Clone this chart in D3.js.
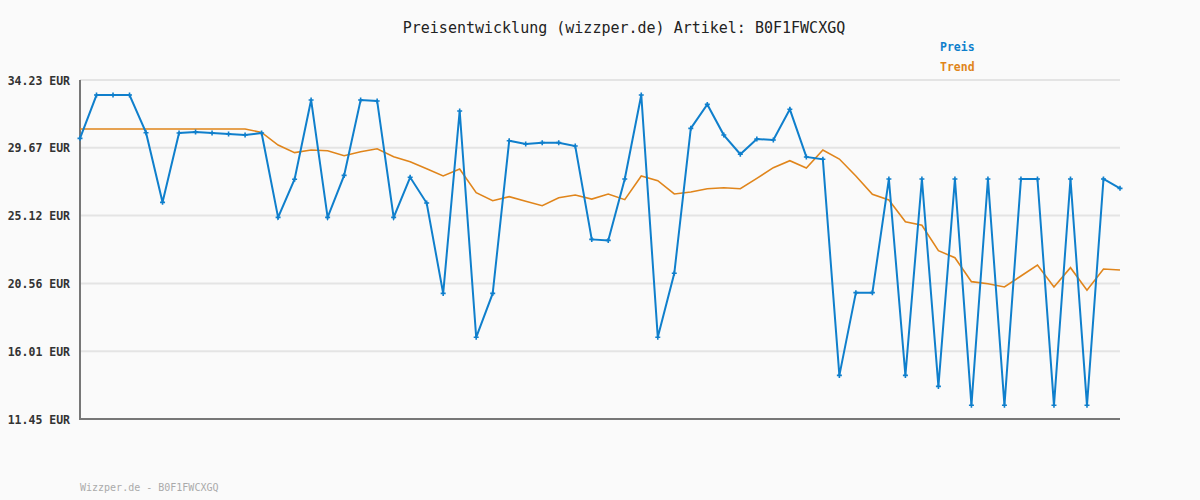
<!DOCTYPE html>
<html>
<head>
<meta charset="utf-8">
<script src="https://cdn.jsdelivr.net/npm/d3@7"></script>
<style>
  body { margin: 0; background: #fafafa; }
  svg { display: block; }
</style>
</head>
<body>
<div id="chart"></div>
<script>
const articleId = 'B0F1FWCXGQ';
const yTicks = [11.45, 16.01, 20.56, 25.12, 29.67, 34.23];

// Preis per sample
const priceValues = [
  30.31, 33.22, 33.22, 33.22, 30.69, 26.01, 30.67, 30.74, 30.67, 30.60,
  30.53, 30.67, 25.00, 27.56, 32.89, 25.00, 27.82, 32.89, 32.82, 25.00,
  27.69, 25.96, 19.89, 32.15, 16.94, 19.89, 30.15, 29.93, 30.02, 30.02,
  29.79, 23.52, 23.45, 27.58, 33.22, 16.94, 21.24, 30.98, 32.59, 30.53,
  29.24, 30.26, 30.20, 32.26, 29.06, 28.90, 14.38, 19.94, 19.94, 27.58,
  14.38, 27.58, 13.64, 27.58, 12.37, 27.58, 12.37, 27.58, 27.58, 12.37,
  27.58, 12.37, 27.58, 26.95
];

// Trend per sample
const trendValues = [
  30.94, 30.94, 30.94, 30.94, 30.94, 30.94, 30.94, 30.94, 30.94, 30.94,
  30.94, 30.71, 29.86, 29.35, 29.53, 29.48, 29.14, 29.41, 29.61, 29.08,
  28.74, 28.27, 27.78, 28.25, 26.66, 26.12, 26.39, 26.08, 25.78, 26.32,
  26.50, 26.23, 26.57, 26.19, 27.78, 27.46, 26.57, 26.70, 26.92, 26.99,
  26.92, 27.62, 28.34, 28.81, 28.32, 29.53, 28.92, 27.78, 26.55, 26.17,
  24.71, 24.47, 22.76, 22.29, 20.68, 20.54, 20.32, 21.06, 21.80, 20.32,
  21.62, 20.10, 21.53, 21.46
];

const width = 1200, height = 500;
const margin = { top: 80, right: 80, bottom: 81, left: 80 };
const mono = '"DejaVu Sans Mono", "Liberation Mono", monospace';
const blue = '#0f7fcc';
const orange = '#e0851b';

const svg = d3.select('#chart').append('svg')
  .attr('width', width)
  .attr('height', height)
  .style('background', '#fafafa');

const x = d3.scaleLinear()
  .domain([0, priceValues.length - 1])
  .range([margin.left, width - margin.right]);
const y = d3.scaleLinear()
  .domain([11.45, 34.23])
  .range([height - margin.bottom, margin.top]);

// grid
svg.append('g')
  .selectAll('line')
  .data(yTicks)
  .join('line')
  .attr('x1', margin.left)
  .attr('x2', width - margin.right)
  .attr('y1', d => y(d))
  .attr('y2', d => y(d))
  .attr('stroke', '#e4e4e4')
  .attr('stroke-width', 2);

// y labels
const yAxis = svg.append('g')
  .attr('transform', `translate(${margin.left - 7},0)`)
  .call(d3.axisLeft(y).tickValues(yTicks).tickSize(0).tickFormat(d => d.toFixed(2) + ' EUR'));
yAxis.select('.domain').remove();
yAxis.selectAll('text')
  .attr('font-family', mono)
  .attr('font-size', '11.5px')
  .attr('font-weight', 'bold')
  .attr('fill', '#333')
  .attr('dx', 0)
  .attr('dy', '0.35em');

// axis lines
svg.append('path')
  .attr('d', `M${margin.left},${margin.top}V${height - margin.bottom}H${width - margin.right}`)
  .attr('fill', 'none')
  .attr('stroke', '#777')
  .attr('stroke-width', 2);

const line = d3.line()
  .x((d, i) => x(i))
  .y(d => y(d));

svg.append('path')
  .datum(trendValues)
  .attr('fill', 'none')
  .attr('stroke', orange)
  .attr('stroke-width', 1.6)
  .attr('d', line);

svg.append('path')
  .datum(priceValues)
  .attr('fill', 'none')
  .attr('stroke', blue)
  .attr('stroke-width', 2)
  .attr('d', line);

// point markers
svg.append('g')
  .selectAll('path')
  .data(priceValues)
  .join('path')
  .attr('d', (d, i) => {
    const cx = x(i), cy = y(d);
    return `M${cx - 2.5},${cy}H${cx + 2.5}M${cx},${cy - 2.5}V${cy + 2.5}`;
  })
  .attr('stroke', blue)
  .attr('stroke-width', 1.6);

// title
svg.append('text')
  .attr('x', 624)
  .attr('y', 33)
  .attr('text-anchor', 'middle')
  .attr('font-family', mono)
  .attr('font-size', '15px')
  .attr('fill', '#222')
  .text('Preisentwicklung (wizzper.de) Artikel: ' + articleId);

// legend
const legend = [['Preis', blue], ['Trend', orange]];
svg.append('g')
  .selectAll('text')
  .data(legend)
  .join('text')
  .attr('x', 940)
  .attr('y', (d, i) => 51 + i * 20)
  .attr('font-family', mono)
  .attr('font-size', '11.5px')
  .attr('font-weight', 'bold')
  .attr('fill', d => d[1])
  .text(d => d[0]);

// footer
svg.append('text')
  .attr('x', 80)
  .attr('y', 491)
  .attr('font-family', mono)
  .attr('font-size', '10px')
  .attr('fill', '#aaa')
  .text('Wizzper.de - ' + articleId);
</script>
</body>
</html>
